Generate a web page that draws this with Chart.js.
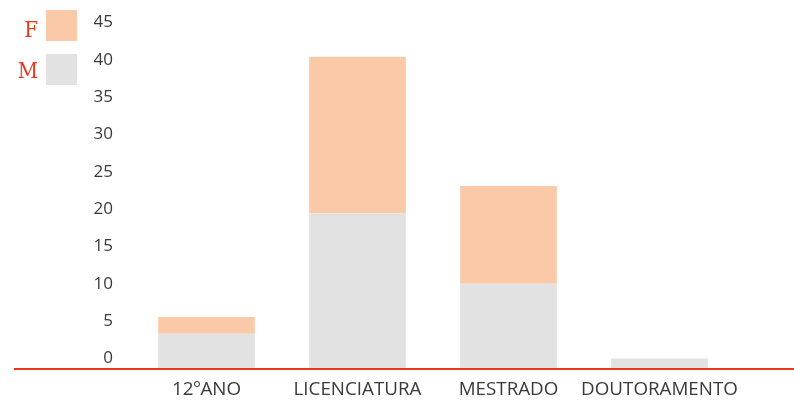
<!DOCTYPE html>
<html>
<head>
<meta charset="utf-8">
<script src="https://cdn.jsdelivr.net/npm/chart.js@4.4.1/dist/chart.umd.min.js"></script>
<style>
  html, body { margin: 0; padding: 0; background: #fff; }
  #wrap { width: 794px; height: 400px; position: relative; }
</style>
</head>
<body>
<div id="wrap"><canvas id="grauChart"></canvas></div>
<script>
// dados
const categories = ["12ºANO", "LICENCIATURA", "MESTRADO", "DOUTORAMENTO"];
const valuesM = [3.3, 19.4, 10, 0];
const valuesF = [2.25, 21, 13.1, 0];
const yTicks = [0, 5, 10, 15, 20, 25, 30, 35, 40, 45];

const colorM = "#e2e2e2";
const colorF = "#f9c9a8";
const accent = "#e8391c";
const axisMin = -1.55;

/* legenda e linha vermelha */
const decorPlugin = {
    id: "decor",
    afterDatasetsDraw(chart) {
        const ctx = chart.ctx;
        const y = chart.scales.y.getPixelForValue(axisMin) - 1;

        ctx.save();
        ctx.strokeStyle = accent;
        ctx.lineWidth = 2;
        ctx.beginPath();
        ctx.moveTo(14, y);
        ctx.lineTo(chart.width, y);
        ctx.stroke();

        // legenda F em cima, M em baixo
        const items = [
            { label: chart.data.datasets[1].label, color: chart.data.datasets[1].backgroundColor, top: 10, base: 37 },
            { label: chart.data.datasets[0].label, color: chart.data.datasets[0].backgroundColor, top: 54, base: 78 }
        ];
        items.forEach(it => {
            ctx.fillStyle = it.color;
            ctx.fillRect(46, it.top, 31, 31);
            ctx.fillStyle = accent;
            ctx.font = "22px 'DejaVu Serif Condensed', 'DejaVu Serif', serif";
            ctx.textAlign = "right";
            ctx.textBaseline = "alphabetic";
            ctx.fillText(it.label, 38, it.base);
        });
        ctx.restore();
    }
};

// sem padding extra das escalas
const noPad = axis => {
    axis.paddingTop = 0;
    axis.paddingBottom = 0;
    axis.paddingLeft = 0;
    axis.paddingRight = 0;
};

new Chart(document.getElementById("grauChart"), {
    type: "bar",
    data: {
        labels: categories,
        datasets: [
            { label: "M", data: valuesM, backgroundColor: colorM, base: axisMin },
            { label: "F", data: valuesF, backgroundColor: colorF }
        ]
    },
    options: {
        responsive: true,
        maintainAspectRatio: false,
        animation: false,
        layout: { padding: { left: 93, right: 59, top: 10, bottom: 0 } },
        datasets: { bar: { barPercentage: 0.8, categoryPercentage: 0.8 } },
        plugins: { legend: { display: false }, tooltip: { enabled: false } },
        scales: {
            x: {
                stacked: true,
                afterFit: axis => { noPad(axis); axis.height = 30; },
                grid: { display: false, drawTicks: false },
                border: { display: false },
                ticks: { color: "#3a3a3a", padding: 8, autoSkip: false, maxRotation: 0, font: { family: "Open Sans", size: 18.8 } }
            },
            y: {
                stacked: true,
                min: axisMin,
                max: 46.67,
                afterBuildTicks: axis => { axis.ticks = yTicks.map(v => ({ value: v })); },
                afterFit: axis => { noPad(axis); axis.width = 38; },
                grid: { display: false, drawTicks: false },
                border: { display: false },
                ticks: { color: "#3a3a3a", padding: 18, font: { family: "Open Sans", size: 17 } }
            }
        }
    },
    plugins: [decorPlugin]
});
</script>
</body>
</html>
